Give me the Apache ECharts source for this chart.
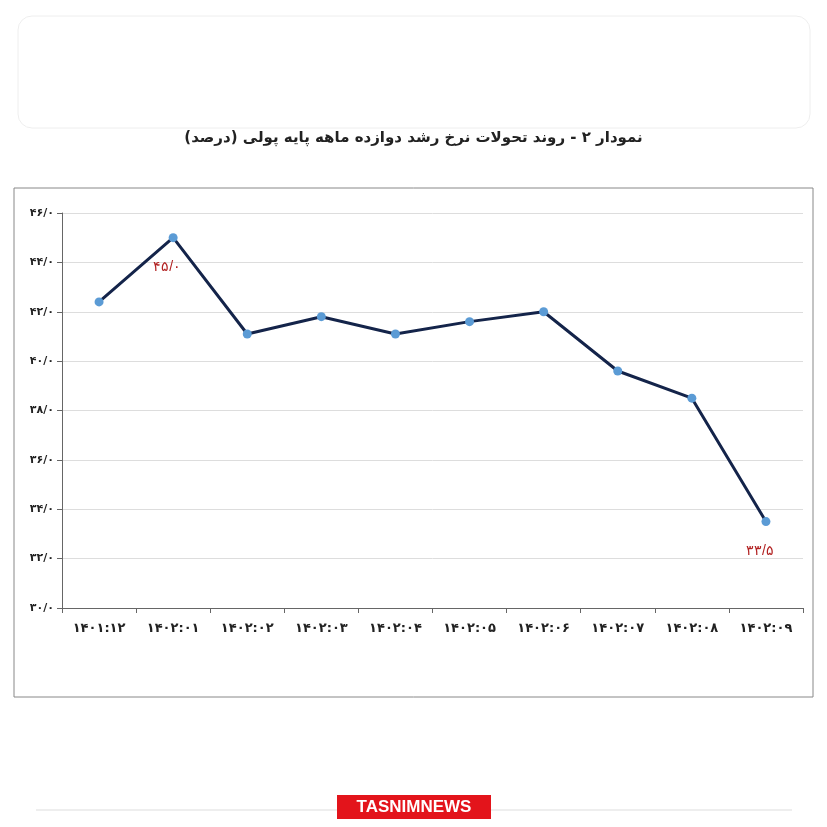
<!DOCTYPE html>
<html><head><meta charset="utf-8">
<script src="https://cdn.jsdelivr.net/npm/echarts@6/dist/echarts.min.js"></script>
<style>html,body{margin:0;background:#fff}#c{width:827px;height:827px}</style></head>
<body><div id="c"></div>
<script>
const categories=['۱۴۰۱:۱۲','۱۴۰۲:۰۱','۱۴۰۲:۰۲','۱۴۰۲:۰۳','۱۴۰۲:۰۴','۱۴۰۲:۰۵','۱۴۰۲:۰۶','۱۴۰۲:۰۷','۱۴۰۲:۰۸','۱۴۰۲:۰۹'];
const values=[42.4,45.0,41.1,41.8,41.1,41.6,42.0,39.6,38.5,33.5];
const pointLabels={1:'۴۵/۰',9:'۳۳/۵'};
const fa=s=>String(s).replace(/\d/g,d=>'۰۱۲۳۴۵۶۷۸۹'[d]);
const ch=echarts.init(document.getElementById('c'));
ch.setOption({
 animation:false,
 title:{text:'نمودار ۲ - روند تحولات نرخ رشد دوازده ماهه پایه پولی (درصد)',left:'center',top:126,textStyle:{fontSize:15,fontWeight:'bold',color:'#222',fontFamily:'DejaVu Sans'}},
 graphic:[
  {type:'rect',shape:{x:14,y:188,width:799,height:509},style:{fill:'none',stroke:'#888',lineWidth:1}},
  {type:'rect',shape:{x:18,y:16,width:792,height:112,r:14},style:{fill:'none',stroke:'#eee',lineWidth:1}},
  {type:'line',shape:{x1:36,y1:810,x2:792,y2:810},style:{stroke:'#ddd'}},
  {type:'rect',shape:{x:337,y:795,width:154,height:24},style:{fill:'#e3141b'}},
  {type:'text',x:414,y:807,style:{text:'TASNIMNEWS',fill:'#fff',font:'bold 17px Liberation Sans',align:'center',verticalAlign:'middle'}}
 ],
 grid:{left:62,right:24,top:213,bottom:219},
 xAxis:{type:'category',data:categories,boundaryGap:true,
  axisLine:{lineStyle:{color:'#666'}},axisTick:{show:true,lineStyle:{color:'#666'}},
  axisLabel:{color:'#222',fontSize:13,fontWeight:'bold',margin:14,fontFamily:'DejaVu Sans'}},
 yAxis:{type:'value',min:30,max:46,interval:2,
  axisLine:{show:true,lineStyle:{color:'#666'}},axisTick:{show:true,lineStyle:{color:'#666'}},
  splitLine:{lineStyle:{color:'#ddd'}},
  axisLabel:{color:'#222',fontSize:11,fontWeight:'bold',fontFamily:'DejaVu Sans',formatter:v=>fa(v)+'/۰'}},
 series:[{type:'line',data:values.map((v,i)=>pointLabels[i]?{value:v,label:{show:true,formatter:pointLabels[i],position:'bottom',distance:18,offset:[-6,0],color:'#b22222',fontSize:14}}:v),
  symbol:'circle',symbolSize:9,itemStyle:{color:'#5b9bd5'},lineStyle:{color:'#14244a',width:3}}]
});
</script></body></html>
